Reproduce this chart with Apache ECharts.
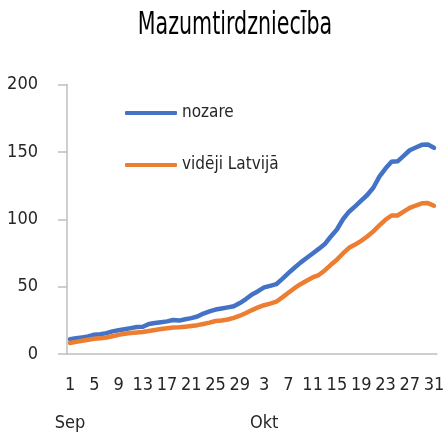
<!DOCTYPE html>
<html>
<head>
<meta charset="utf-8">
<script src="https://cdn.jsdelivr.net/npm/echarts@6/dist/echarts.min.js"></script>
<style>
  html, body { margin: 0; padding: 0; background: #fff; }
  #chart { width: 444px; height: 439px; }
</style>
</head>
<body>
<div id="chart"></div>
<script>
// Day-of-month labels, 1 Sep .. 31 Oct
const days = [
  '1','2','3','4','5','6','7','8','9','10','11','12','13','14','15','16','17','18','19','20',
  '21','22','23','24','25','26','27','28','29','30',
  '1','2','3','4','5','6','7','8','9','10','11','12','13','14','15','16','17','18','19','20',
  '21','22','23','24','25','26','27','28','29','30','31'
];
// Month names shown on a second line under selected day labels
const monthAt = { 0: 'Sep', 32: 'Okt' };

const yTicks = [0, 50, 100, 150, 200];

const titleText = 'Mazumtirdzniecība';
const seriesNames = ['nozare', 'vidēji Latvijā'];

const nozare = [
  11, 11.7, 12.3, 13, 14.3, 14.6, 15.5, 16.8, 17.6, 18.4,
  19.2, 20, 20.2, 22.3, 23, 23.6, 24.2, 25.2, 24.8, 25.8,
  26.6, 27.8, 30, 31.6, 33, 33.8, 34.6, 35.4, 37.8, 40.8,
  44.2, 46.6, 49.4, 50.6, 51.8, 55.8, 60, 64, 67.8, 71.2,
  74.6, 78, 81.6, 87.2, 92.4, 100, 105.6, 109.6, 113.8, 118,
  123.4, 131.6, 137.6, 142.6, 143, 147, 151.2, 153.2, 155.2, 155.4,
  153
];

const videjiLatvija = [
  8.2, 9, 9.8, 10.6, 11.3, 11.6, 12.2, 13.2, 14.2, 15,
  15.6, 16, 16.3, 17, 17.8, 18.5, 19.1, 19.7, 19.9, 20.3,
  20.8, 21.4, 22.3, 23.3, 24.5, 24.9, 25.6, 26.8, 28.4, 30.4,
  32.6, 34.6, 36.2, 37.4, 38.8, 42, 45.4, 48.8, 51.8, 54.4,
  56.8, 58.6, 62, 66.2, 70, 74.6, 78.8, 81.2, 84, 87.2,
  91, 95.4, 99.6, 102.8, 102.8, 105.6, 108.4, 110.2, 111.8, 112,
  110
];

const FONT = '"DejaVu Sans Condensed", "DejaVu Sans", sans-serif';
const TEXT = '#262626';
const AXIS = '#bfbfbf';

const chart = echarts.init(document.getElementById('chart'), null, { renderer: 'canvas' });

chart.setOption({
  animation: false,
  backgroundColor: '#ffffff',
  textStyle: { fontFamily: FONT },
  // Title drawn as a narrowed text element for a tall, condensed look
  graphic: [
    {
      type: 'text',
      x: 235,
      y: 26,
      scaleX: 0.716,
      silent: true,
      style: {
        text: titleText,
        x: 0,
        y: 0,
        fontFamily: FONT,
        fontSize: 32,
        fill: '#000',
        align: 'center',
        verticalAlign: 'middle',
        textAlign: 'center',
        textVerticalAlign: 'middle'
      }
    }
  ],
  legend: {
    orient: 'vertical',
    left: 125,
    top: 102,
    padding: 0,
    itemWidth: 52,
    itemHeight: 4,
    itemGap: 30,
    icon: 'roundRect',
    data: seriesNames,
    textStyle: { fontFamily: FONT, fontSize: 17, color: TEXT, lineHeight: 22 }
  },
  grid: {
    left: 67, right: 7, top: 84.5, bottom: 85,
    containLabel: false,
    outerBoundsMode: 'none'
  },
  xAxis: {
    type: 'category',
    data: days,
    boundaryGap: true,
    axisLine: { show: true, lineStyle: { color: AXIS, width: 1.5 } },
    axisTick: { show: false },
    axisLabel: {
      interval: 3,
      margin: 12,
      hideOverlap: false,
      fontFamily: FONT,
      fontSize: 18,
      lineHeight: 38,
      color: TEXT,
      formatter: (value, index) => monthAt[index] ? value + '\n' + monthAt[index] : value
    }
  },
  yAxis: {
    type: 'value',
    min: yTicks[0],
    max: yTicks[yTicks.length - 1],
    interval: 50,
    splitLine: { show: false },
    axisLine: { show: true, lineStyle: { color: AXIS, width: 1.5 } },
    axisTick: { show: true, length: 9, inside: false, lineStyle: { color: AXIS, width: 1.5 } },
    axisLabel: { margin: 29, fontFamily: FONT, fontSize: 18, color: TEXT }
  },
  series: [
    {
      name: seriesNames[0],
      type: 'line',
      data: nozare,
      showSymbol: false,
      symbol: 'none',
      lineStyle: { color: '#4472C4', width: 4.5, cap: 'round', join: 'round' },
      itemStyle: { color: '#4472C4' }
    },
    {
      name: seriesNames[1],
      type: 'line',
      data: videjiLatvija,
      showSymbol: false,
      symbol: 'none',
      lineStyle: { color: '#ED7D31', width: 4.5, cap: 'round', join: 'round' },
      itemStyle: { color: '#ED7D31' }
    }
  ]
});
</script>
</body>
</html>
